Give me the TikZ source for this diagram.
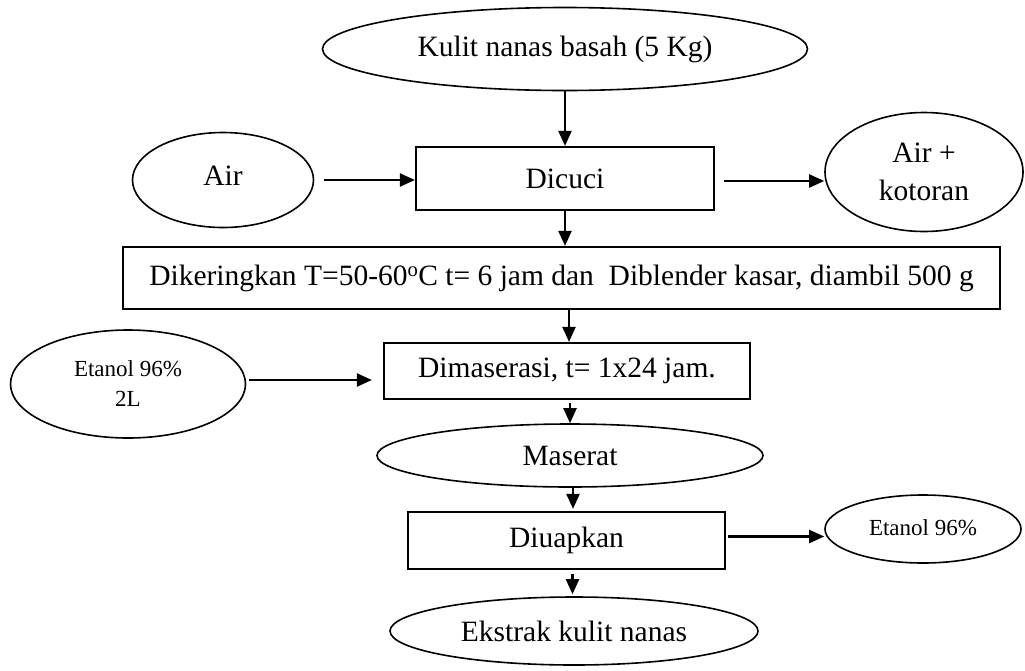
\documentclass[tikz,border=0pt]{standalone}
\usepackage{fontspec}
\setmainfont{Liberation Serif}
\usetikzlibrary{shapes.geometric,arrows.meta,calc}
\begin{document}
\begin{tikzpicture}[x=1pt,y=-1pt,
  ell/.style={draw,ellipse,line width=1.6pt,inner sep=0pt,align=center,font=\fontsize{29.5}{38}\selectfont},
  smallell/.style={ell,font=\fontsize{23}{30}\selectfont},
  box/.style={draw,rectangle,line width=2.2pt,inner sep=0pt,align=center,font=\fontsize{29.5}{32}\selectfont},
  arr/.style={line width=2.2pt,-{Triangle[length=15pt,width=13pt]}}]
\useasboundingbox (0,0) rectangle (1025,670);
\node[ell,minimum width=485,minimum height=83] (kulit) at (565,49) {Kulit nanas basah (5 Kg)};
\node[ell,minimum width=181,minimum height=95] (air) at (223,180) {\raisebox{8pt}{Air}};
\node[box,minimum width=298,minimum height=63] (dicuci) at (565,178.5) {Dicuci};
\node[ell,minimum width=198,minimum height=119] (airkot) at (924,172) {Air +\\kotoran};
\node[box,minimum width=877,minimum height=62] (dik) at (561.5,278) {Dikeringkan T=50-60\textsuperscript{o}C t= 6 jam dan~ Diblender kasar, diambil 500 g};
\node[smallell,minimum width=235,minimum height=108] (et2) at (128,384) {Etanol 96\%\\2L};
\node[box,minimum width=366,minimum height=56] (dim) at (567,371) {Dimaserasi, t= 1x24 jam.};
\node[ell,minimum width=386,minimum height=63] (mas) at (570,455.5) {Maserat};
\node[box,minimum width=317,minimum height=57] (diu) at (566.5,540.5) {Diuapkan};
\node[smallell,minimum width=196,minimum height=68] (et96) at (923,529) {\raisebox{3pt}{Etanol 96\%}};
\node[ell,minimum width=368,minimum height=68] (eks) at (574,631) {Ekstrak kulit nanas};

\draw[arr] (kulit.south) -- (dicuci.north);
\draw[arr,shorten <=10pt] (air.east) -- (air.east -| dicuci.west);
\draw[arr,shorten <=9pt] ([yshift=-2.5pt]dicuci.east) -- ([yshift=-2.5pt]dicuci.east -| airkot.west);
\draw[arr] (dicuci.south) -- (dicuci.south |- dik.north);
\draw[arr] ([xshift=2pt]dim.north |- dik.south) -- ([xshift=2pt]dim.north);
\draw[arr,shorten <=3pt,shorten >=11pt] ([yshift=4pt]et2.east) -- ([yshift=4pt]et2.east -| dim.west);
\draw[arr,shorten <=3pt] ([xshift=3pt]dim.south) -- ([xshift=3pt]dim.south |- mas.north);
\draw[arr,shorten >=2pt] ([xshift=3pt]mas.south) -- ([xshift=3pt]mas.south |- diu.north);
\draw[arr,shorten <=2pt] ([yshift=4pt]diu.east) -- ([yshift=4pt]diu.east -| et96.west);
\draw[arr,shorten <=4pt,shorten >=2pt] ([xshift=6pt]diu.south) -- ([xshift=6pt]diu.south |- eks.north);
\end{tikzpicture}
\end{document}
